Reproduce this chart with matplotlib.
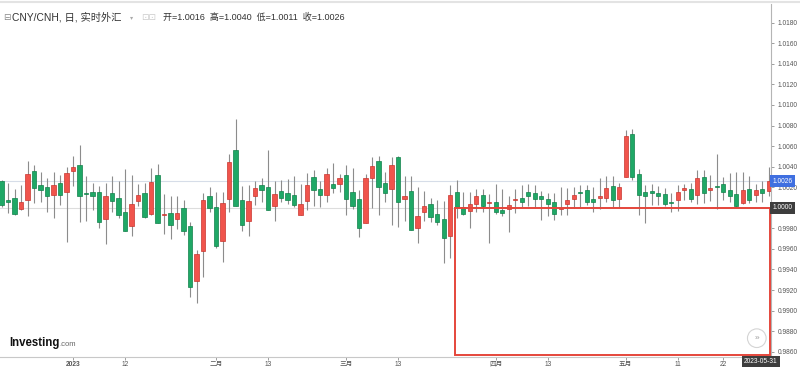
import matplotlib
matplotlib.use("Agg")
from matplotlib import pyplot as plt
from matplotlib.patches import Rectangle
import pandas as pd

# daily candles, 2022-12-16 .. 2023-05-31 (weekdays)
dates = pd.bdate_range("2022-12-16", "2023-05-31")
opens = [1.0026, 1.0008, 1.0010, 0.9999, 1.0008, 1.0036, 1.0022, 1.0020, 1.0012, 1.0024,
         1.0015, 1.0036, 1.0042, 1.0014, 1.0015, 1.0015, 0.9989, 1.0014, 1.0010, 0.9996,
         0.9982, 1.0007, 1.0014, 0.9994, 1.0032, 0.9993, 0.9995, 0.9989, 1.0000, 0.9982,
         0.9929, 0.9958, 1.0011, 1.0001, 0.9968, 1.0009, 1.0056, 1.0008, 0.9987, 1.0011,
         1.0022, 1.0020, 1.0002, 1.0016, 1.0014, 1.0012, 0.9993, 1.0007, 1.0030, 1.0018,
         1.0012, 1.0023, 1.0023, 1.0032, 1.0015, 1.0009, 0.9985, 1.0029, 1.0046, 1.0024,
         1.0018, 1.0049, 1.0009, 1.0016, 0.9980, 0.9996, 1.0004, 0.9994, 0.9989, 0.9973,
         1.0015, 1.0001, 0.9997, 1.0004, 1.0012, 1.0005, 1.0006, 0.9998, 0.9999, 1.0008,
         1.0010, 1.0015, 1.0014, 1.0011, 1.0009, 1.0006, 0.9999, 1.0004, 1.0009, 1.0015,
         1.0017, 1.0009, 1.0010, 1.0010, 1.0021, 1.0009, 1.0030, 1.0072, 1.0033, 1.0015,
         1.0016, 1.0014, 1.0013, 1.0006, 1.0008, 1.0017, 1.0018, 1.0012, 1.0030, 1.0017,
         1.0021, 1.0023, 1.0017, 1.0013, 1.0005, 1.0018, 1.0012, 1.0018, 1.0016]
highs = [1.0027, 1.0024, 1.0018, 1.0022, 1.0046, 1.0042, 1.0035, 1.0029, 1.0035, 1.0032,
         1.0040, 1.0050, 1.0061, 1.0031, 1.0024, 1.0021, 1.0024, 1.0031, 1.0026, 1.0038,
         1.0032, 1.0023, 1.0024, 1.0039, 1.0043, 1.0013, 1.0011, 1.0011, 1.0008, 0.9986,
         0.9959, 1.0014, 1.0020, 1.0015, 1.0015, 1.0052, 1.0086, 1.0021, 1.0022, 1.0026,
         1.0029, 1.0056, 1.0026, 1.0027, 1.0028, 1.0031, 1.0023, 1.0034, 1.0037, 1.0026,
         1.0039, 1.0044, 1.0033, 1.0042, 1.0039, 1.0017, 1.0033, 1.0049, 1.0050, 1.0035,
         1.0049, 1.0050, 1.0031, 1.0031, 1.0020, 1.0016, 1.0010, 1.0008, 1.0007, 1.0022,
         1.0027, 1.0015, 1.0015, 1.0018, 1.0018, 1.0013, 1.0023, 1.0018, 1.0011, 1.0018,
         1.0022, 1.0023, 1.0022, 1.0016, 1.0014, 1.0014, 1.0020, 1.0019, 1.0020, 1.0022,
         1.0022, 1.0020, 1.0029, 1.0031, 1.0031, 1.0024, 1.0076, 1.0077, 1.0038, 1.0022,
         1.0023, 1.0021, 1.0019, 1.0014, 1.0022, 1.0023, 1.0024, 1.0037, 1.0037, 1.0032,
         1.0052, 1.0030, 1.0034, 1.0035, 1.0035, 1.0031, 1.0023, 1.0026, 1.0040]
lows = [1.0001, 0.9995, 0.9993, 0.9998, 0.9992, 1.0005, 1.0006, 0.9996, 0.9990, 1.0003,
        0.9967, 1.0021, 0.9986, 0.9987, 0.9998, 0.9980, 0.9965, 0.9996, 0.9990, 0.9977,
        0.9973, 1.0002, 0.9990, 0.9993, 0.9985, 0.9975, 0.9970, 0.9979, 0.9974, 0.9913,
        0.9907, 0.9933, 0.9996, 0.9961, 0.9947, 0.9996, 1.0002, 0.9977, 0.9973, 1.0003,
        1.0006, 0.9998, 0.9987, 1.0006, 1.0004, 1.0001, 0.9993, 0.9998, 1.0002, 1.0001,
        1.0006, 1.0014, 1.0015, 0.9993, 0.9999, 0.9972, 0.9985, 1.0000, 0.9993, 1.0006,
        0.9983, 0.9981, 0.9987, 0.9978, 0.9966, 0.9987, 0.9986, 0.9983, 0.9946, 0.9951,
        0.9990, 0.9993, 0.9980, 0.9996, 0.9996, 0.9966, 0.9994, 0.9992, 0.9976, 0.9995,
        1.0001, 1.0002, 1.0001, 0.9988, 0.9992, 0.9988, 0.9993, 0.9993, 1.0000, 1.0000,
        1.0003, 0.9996, 0.9999, 1.0006, 1.0001, 1.0000, 1.0030, 1.0027, 0.9993, 0.9985,
        1.0003, 1.0003, 1.0002, 0.9996, 0.9997, 1.0008, 1.0006, 1.0004, 1.0005, 1.0007,
        0.9999, 1.0008, 1.0006, 1.0001, 1.0004, 1.0005, 1.0006, 1.0006, 1.0011]
closes = [1.0003, 1.0006, 0.9994, 1.0006, 1.0033, 1.0019, 1.0017, 1.0011, 1.0022, 1.0012,
          1.0034, 1.0040, 1.0011, 1.0013, 1.0011, 0.9986, 1.0011, 1.0007, 0.9993, 0.9977,
          1.0004, 1.0012, 0.9991, 1.0025, 0.9985, 0.9994, 0.9983, 0.9995, 0.9977, 0.9923,
          0.9955, 1.0008, 1.0000, 0.9963, 1.0005, 1.0045, 1.0002, 0.9983, 1.0007, 1.0019,
          1.0017, 0.9998, 1.0013, 1.0010, 1.0008, 1.0003, 1.0004, 1.0022, 1.0017, 1.0012,
          1.0033, 1.0019, 1.0029, 1.0009, 1.0002, 0.9980, 1.0029, 1.0041, 1.0020, 1.0014,
          1.0042, 1.0006, 1.0011, 0.9978, 0.9992, 1.0002, 0.9991, 0.9986, 0.9971, 1.0012,
          1.0001, 0.9994, 1.0004, 1.0011, 1.0002, 1.0006, 0.9996, 0.9995, 1.0003, 1.0009,
          1.0006, 1.0011, 1.0009, 1.0009, 1.0004, 0.9994, 1.0000, 1.0008, 1.0012, 1.0014,
          1.0006, 1.0006, 1.0011, 1.0019, 1.0008, 1.0020, 1.0070, 1.0030, 1.0012, 1.0011,
          1.0014, 1.0011, 1.0004, 1.0005, 1.0015, 1.0019, 1.0009, 1.0029, 1.0014, 1.0019,
          1.0020, 1.0015, 1.0011, 1.0002, 1.0017, 1.0008, 1.0017, 1.0014, 1.0026]

tick_dates = ["2023-01-02", "2023-01-12", "2023-02-01", "2023-02-13", "2023-03-01",
              "2023-03-13", "2023-04-03", "2023-04-13", "2023-05-01", "2023-05-11", "2023-05-22"]
tick_labels = ["2023", "12", "二月", "13", "三月", "13", "四月", "13", "五月", "11", "22"]
y_ticks = [0.9860 + 0.002 * k for k in range(17)]

plt.rcParams["font.family"] = ["Liberation Sans", "Noto Sans CJK SC", "DejaVu Sans"]

UP = "#f0544c"
UP_EDGE = "#c9352e"
DOWN = "#1fa866"
DOWN_EDGE = "#11804a"
WICK = "#8c8c8c"

fig = plt.figure(figsize=(8, 3.68), dpi=100)
ax = fig.add_axes([0, 11 / 368, 771 / 800, 353 / 368])

n = len(dates)
x = list(range(n))
for i in x:
    o, h, l, c = opens[i], highs[i], lows[i], closes[i]
    ax.vlines(i, l, h, color=WICK, lw=0.8, zorder=2)
    up = c > o
    bottom = min(o, c)
    height = max(abs(c - o), 0.00003)
    ax.bar(i, height, bottom=bottom, width=0.68,
           color=UP if up else DOWN, edgecolor=UP_EDGE if up else DOWN_EDGE,
           linewidth=0.5, zorder=3)

# reference lines: last price and 1.0000
ax.axhline(closes[-1], color="#d6dde8", lw=0.8, zorder=1)
ax.axhline(1.0, color="#dddddd", lw=0.8, zorder=1)

# red marker box
date_pos = {d.strftime("%Y-%m-%d"): k for k, d in enumerate(dates)}
box_left = date_pos["2023-03-24"] - 0.3
ax.add_patch(Rectangle((box_left, 0.98568), n - 0.8 - box_left, 1.0 - 0.98568,
                       fill=False, edgecolor="#e5463b", lw=1.4, zorder=4))

ax.set_xlim(-0.26, 118.35)
ax.set_ylim(0.98549, 1.01982)

ax.yaxis.tick_right()
ax.set_yticks(y_ticks)
ax.set_yticklabels(["" if abs(v - 1.0) < 1e-9 else f"{v:.4f}" for v in y_ticks])
ax.set_xticks([date_pos[d] for d in tick_dates])
ax.set_xticklabels(tick_labels)
for lab in ax.get_xticklabels():
    if lab.get_text() == "2023":
        lab.set_fontweight("bold")
ax.tick_params(axis="y", labelsize=4.8, colors="#777777", length=2.5, width=0.5, pad=2)
ax.tick_params(axis="x", labelsize=4.8, colors="#777777", length=2, width=0.5, pad=0.8)
for lab in ax.get_xticklabels() + ax.get_yticklabels():
    lab.set_color("#555555")

for side in ["top", "left"]:
    ax.spines[side].set_visible(False)
ax.spines["right"].set_color("#b5b5b5")
ax.spines["bottom"].set_color("#c8c8c8")
ax.spines["right"].set_linewidth(0.8)
ax.spines["bottom"].set_linewidth(0.8)

tr = ax.get_yaxis_transform()
ax.text(1.002, closes[-1], f"{closes[-1]:.4f}", transform=tr, ha="left", va="center",
        fontsize=4.8, color="white", zorder=10, clip_on=False,
        bbox=dict(boxstyle="square,pad=0.35", fc="#3f6fe0", ec="none"))
ax.text(1.002, 1.0, "1.0000", transform=tr, ha="left", va="center",
        fontsize=4.8, color="white", zorder=10, clip_on=False,
        bbox=dict(boxstyle="square,pad=0.35", fc="#3d3d3d", ec="none"))
ax.text(n - 2.2, -0.004, "2023-05-31", transform=ax.get_xaxis_transform(),
        ha="center", va="top", fontsize=4.8, color="white", zorder=10, clip_on=False,
        bbox=dict(boxstyle="square,pad=0.3", fc="#3d3d3d", ec="none"))

# header
fig.add_artist(plt.Line2D([0, 1], [0.994, 0.994], color="#e3e3e3", lw=1.5))
fig.text(0.004, 0.953, "⊟", fontsize=6.5, color="#888888", va="center", family="DejaVu Sans")
fig.text(0.015, 0.953, "CNY/CNH, 日, 实时外汇", fontsize=7.4, color="#333333", va="center")
fig.text(0.163, 0.953, "▾", fontsize=4.5, color="#aaaaaa", va="center", family="DejaVu Sans")
fig.text(0.176, 0.953, "⊡⊡", fontsize=6.5, color="#cccccc", va="center", family="DejaVu Sans")
fig.text(0.204, 0.953,
         f"开={opens[-1]:.4f}  高={highs[-1]:.4f}  低={lows[-1]:.4f}  收={closes[-1]:.4f}",
         fontsize=6.5, color="#333333", va="center")

# logo and scroll button
fig.text(0.012, 0.068, "Investing", fontsize=8.3, fontweight="bold", color="#111111", va="center")
fig.text(0.074, 0.064, ".com", fontsize=5.5, color="#666666", va="center")
fig.text(0.946, 0.081, "»", fontsize=6, color="#999999", ha="center", va="center",
         bbox=dict(boxstyle="circle,pad=0.7", fc="white", ec="#d4d4d4", lw=0.8))

fig.savefig("out.png", dpi=100)
